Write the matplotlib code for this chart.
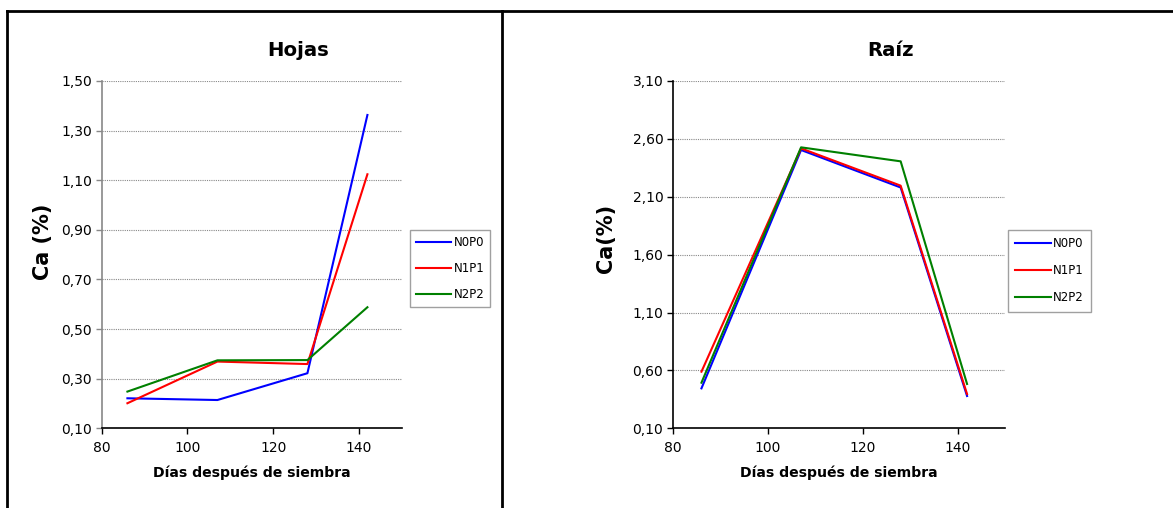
import matplotlib
matplotlib.use("Agg")
import matplotlib.pyplot as plt
from matplotlib.lines import Line2D

# ---- data ----
dias = [86, 107, 128, 142]
series_names = ["N0P0", "N1P1", "N2P2"]
colors = ["#0000ff", "#ff0000", "#008000"]

hojas_n0p0 = [0.221, 0.214, 0.322, 1.363]
hojas_n1p1 = [0.201, 0.369, 0.359, 1.124]
hojas_n2p2 = [0.248, 0.374, 0.375, 0.588]

raiz_n0p0 = [0.445, 2.504, 2.180, 0.379]
raiz_n1p1 = [0.589, 2.518, 2.196, 0.396]
raiz_n2p2 = [0.494, 2.527, 2.406, 0.483]

x_ticks = [80, 100, 120, 140]
hojas_yticks = [0.10, 0.30, 0.50, 0.70, 0.90, 1.10, 1.30, 1.50]
hojas_ylabels = ["0,10", "0,30", "0,50", "0,70", "0,90", "1,10", "1,30", "1,50"]
raiz_yticks = [0.10, 0.60, 1.10, 1.60, 2.10, 2.60, 3.10]
raiz_ylabels = ["0,10", "0,60", "1,10", "1,60", "2,10", "2,60", "3,10"]

plt.rcParams['font.family'] = ['DejaVu Sans']

W, H = 1173, 508
fig = plt.figure(figsize=(W / 100, H / 100), dpi=100)

def px(x0, y0, x1, y1):
    return [x0 / W, 1 - y1 / H, (x1 - x0) / W, (y1 - y0) / H]

def panel(rect, title, ylabel, series, yticks, ylabels, ylabel_xy, leg_anchor,
          left_spine_color, bpad, lspace):
    ax = fig.add_axes(rect)
    for vals, name, c in zip(series, series_names, colors):
        ax.plot(dias, vals, color=c, lw=1.5, label=name)
    ax.set_xlim(80, 150)
    ax.set_ylim(yticks[0], yticks[-1])
    ax.set_xticks(x_ticks)
    ax.set_yticks(yticks)
    ax.set_yticklabels(ylabels)
    ax.tick_params(axis='both', labelsize=10, length=4, width=1, color='black')
    ax.tick_params(axis='x', pad=5)
    ax.tick_params(axis='y', color=left_spine_color, pad=3)
    for s in ['top', 'right']:
        ax.spines[s].set_visible(False)
    ax.spines['left'].set_color(left_spine_color)
    ax.spines['left'].set_linewidth(1.2)
    ax.spines['bottom'].set_linewidth(1.2)
    ax.yaxis.grid(True, linestyle=(0, (1, 1)), color='#888888', lw=0.8)
    ax.set_axisbelow(True)
    ax.text(0.654, 1 + 30 / 347.3, title, transform=ax.transAxes, ha='center', va='center',
            fontsize=14.2, fontweight='bold')
    ax.set_xlabel("Días después de siembra", fontsize=10.1, fontweight='bold', labelpad=8)
    ax.set_ylabel(ylabel, fontsize=15, fontweight='bold')
    ax.yaxis.set_label_coords(*ylabel_xy)
    leg = ax.legend(loc='upper left', bbox_to_anchor=leg_anchor, bbox_transform=fig.transFigure,
                    fontsize=8.5, frameon=True, fancybox=False, handlelength=3.0,
                    borderpad=bpad, labelspacing=lspace, handletextpad=0.2, borderaxespad=0)
    leg.get_frame().set_edgecolor('#888888')
    leg.get_frame().set_linewidth(1.0)
    return ax

panel(px(101.7, 81, 401.7, 428.3), "Hojas", "Ca (%)",
      [hojas_n0p0, hojas_n1p1, hojas_n2p2], hojas_yticks, hojas_ylabels,
      (-0.162, 0.536), (410 / W, 1 - 230 / H), '#888888', 0.5, 1.1)
panel(px(673, 81, 1005, 428.3), "Raíz", "Ca(%)",
      [raiz_n0p0, raiz_n1p1, raiz_n2p2], raiz_yticks, raiz_ylabels,
      (-0.173, 0.548), (1008 / W, 1 - 230 / H), 'black', 0.6, 1.2)

# frames around panels
def fline(xs, ys, lw=2):
    fig.add_artist(Line2D([x / W for x in xs], [1 - y / H for y in ys],
                          transform=fig.transFigure, color='black', lw=lw))

fline([7, 1173], [10.7, 10.7])
fline([7.3, 7.3], [10.7, 508])
fline([501.7, 501.7], [10.7, 508])

fig.savefig("out.png", dpi=100)
